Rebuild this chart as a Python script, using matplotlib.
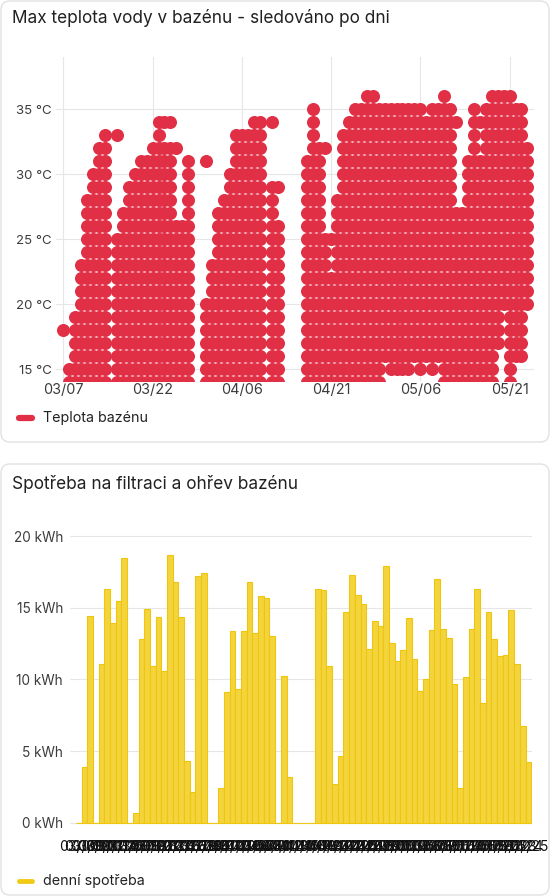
import numpy as np
import matplotlib
matplotlib.use("Agg")
import matplotlib.pyplot as plt
from matplotlib.patches import FancyBboxPatch
from matplotlib.transforms import IdentityTransform
from matplotlib.lines import Line2D

plt.rcParams['font.family'] = ['Inter', 'DejaVu Sans']

# ---- data: max water temperature, one column per day from 03/07 ----
nan = np.nan
temp_lo = [18, 14, 14, 14, 14, 14, 14, 14, nan, 14,
           14, 14, 14, 14, 14, 14, 14, 14, 14, 14,
           14, 14, nan, nan, 14, 14, 14, 14, 14, 14,
           14, 14, 14, 14, nan, 14, 14, nan, nan, nan,
           nan, 14, 14, 14, 14, 14, 14, 14, 14, 14,
           14, 14, 14, 14, 16, 15, 15, 15, 15, 16,
           15, 16, 15, 16, 14, 14, 14, 14, 14, 14,
           14, 14, 14, 17, 20, 14, 16, 16, 20]
temp_hi = [18, 15, 19, 23, 28, 30, 32, 33, nan, 25,
           27, 29, 30, 31, 31, 32, 34, 32, 32, 26,
           26, 31, nan, nan, 20, 23, 27, 28, 30, 33,
           33, 33, 34, 34, nan, 29, 26, nan, nan, nan,
           nan, 31, 35, 32, 25, 22, 28, 33, 34, 35,
           35, 36, 36, 35, 35, 35, 35, 35, 35, 35,
           35, 34, 35, 35, 36, 35, 27, 27, 31, 35,
           31, 35, 36, 36, 36, 36, 35, 35, 32]
# isolated readings above the main column (day, temp)
extra_day = [9, 17, 18, 19, 24, 35, 36, 44, 45, 66, 70]
extra_temp = [33, 34, 34, 32, 31, 34, 29, 32, 25, 34, 34]
temp_tick_days = [0, 15, 30, 45, 60, 75]
temp_tick_labels = ['03/07', '03/22', '04/06', '04/21', '05/06', '05/21']
temp_yticks = [15, 20, 25, 30, 35]

# ---- data: daily energy consumption (kWh) ----
energy = [0, 3.9, 14.4, 0, 11.1, 16.3, 13.9, 15.5, 18.5, 0,
          0.65, 12.8, 14.9, 10.9, 14.35, 10.6, 18.7, 16.8, 14.35, 4.3,
          2.15, 17.2, 17.4, 0, 0, 2.4, 9.1, 13.4, 9.35, 13.35,
          16.8, 13.25, 15.8, 15.65, 13.0, 0, 10.2, 3.2, 0, 0,
          0, 0, 16.3, 16.25, 10.9, 2.7, 4.65, 14.7, 17.3, 15.9,
          15.25, 12.1, 14.05, 13.7, 17.9, 12.55, 11.3, 12.05, 14.25, 11.4,
          9.2, 10.05, 13.45, 17.0, 13.5, 12.9, 9.65, 2.45, 10.15, 13.5,
          16.3, 8.35, 14.7, 12.8, 11.6, 11.7, 14.85, 11.1, 6.75, 4.25]
energy_dates = (np.datetime64('2024-03-07') + np.arange(len(energy))).astype(object)
energy_labels = [d.strftime('%m/%d') for d in energy_dates]
energy_yticks = [0, 5, 10, 15, 20]

RED = '#e12f46'
YELLOW = '#f3d43c'
YELLOW_EDGE = '#efc50f'
GRID = '#e6e6e6'
TEXT = '#212121'
TICK = '#3c3c3c'

W, H = 550, 896
fig = plt.figure(figsize=(W / 100, H / 100), dpi=100)
fig.patch.set_facecolor('white')


def px_box(l, t, r, b):
    return [l / W, 1 - b / H, (r - l) / W, (b - t) / H]


def legend_entry(x0, x1, y, color, lw, label):
    fig.add_artist(Line2D([x0 / W, x1 / W], [1 - y / H, 1 - y / H],
                          transform=fig.transFigure, color=color, lw=lw,
                          solid_capstyle='round'))
    fig.text(43 / W, 1 - y / H, label, fontsize=10.3, color=TEXT,
             va='center', ha='left')


# cards
for top, bot in [(1, 442), (464, 895)]:
    card = FancyBboxPatch((1, H - bot), W - 2, bot - top,
                          boxstyle='round,pad=0,rounding_size=9',
                          transform=IdentityTransform(),
                          facecolor='white', edgecolor='#e2e2e2', lw=1,
                          zorder=-5)
    fig.patches.append(card)

fig.text(12 / W, 1 - 18 / H, 'Max teplota vody v bazénu - sledováno po dni',
         fontsize=12.4, color=TEXT, va='center', ha='left')
fig.text(12 / W, 1 - 484 / H, 'Spotřeba na filtraci a ohřev bazénu',
         fontsize=12.4, color=TEXT, va='center', ha='left')

# ---- top chart ----
ax = fig.add_axes(px_box(56, 57, 534, 381.5))
ax.patch.set_alpha(0)
xs, ys = [], []
for d, (lo, hi) in enumerate(zip(temp_lo, temp_hi)):
    if np.isnan(lo):
        continue
    for t in range(int(lo), int(hi) + 1):
        xs.append(d)
        ys.append(t)
xs += extra_day
ys += extra_temp
ax.scatter(xs, ys, s=88, color=RED, linewidths=0, zorder=3)
ax.set_xlim(-7.3 / 5.95, (534 - 63.3) / 5.95)
ax.set_ylim(14.04, 39.0)
ax.set_xticks(temp_tick_days)
ax.set_xticklabels(temp_tick_labels)
ax.set_yticks(temp_yticks)
ax.set_yticklabels([f'{v} °C' for v in temp_yticks])
ax.grid(True, color=GRID, lw=0.8)
ax.set_axisbelow(True)
for s in ax.spines.values():
    s.set_visible(False)
ax.tick_params(length=0, colors=TICK)
ax.tick_params(axis='x', labelsize=10.4, pad=1)
ax.tick_params(axis='y', labelsize=9.5, pad=3)

legend_entry(19, 32, 418, RED, 4.5, 'Teplota bazénu')

# ---- bottom chart ----
ax2 = fig.add_axes(px_box(70, 530, 531.5, 825))
ax2.patch.set_alpha(0)
pos = np.arange(len(energy))
ax2.bar(pos, energy, width=1.0, color=YELLOW, edgecolor=YELLOW_EDGE, lw=0.8,
        zorder=3)
ax2.set_xlim(-1.55, 79.55)
ax2.set_ylim(-0.16, 20.42)
ax2.set_yticks(energy_yticks)
ax2.set_yticklabels([f'{v} kWh' for v in energy_yticks])
ax2.set_xticks(pos)
ax2.set_xticklabels(energy_labels)
ax2.yaxis.grid(True, color=GRID, lw=0.8)
ax2.set_axisbelow(True)
for s in ax2.spines.values():
    s.set_visible(False)
ax2.tick_params(length=0, colors=TICK)
ax2.tick_params(axis='y', labelsize=9.8, pad=5)
ax2.tick_params(axis='x', labelsize=10, pad=11, colors='#111111')

legend_entry(19, 32, 881, '#f1ca16', 3.5, 'denní spotřeba')

fig.savefig('out.png', dpi=100)
